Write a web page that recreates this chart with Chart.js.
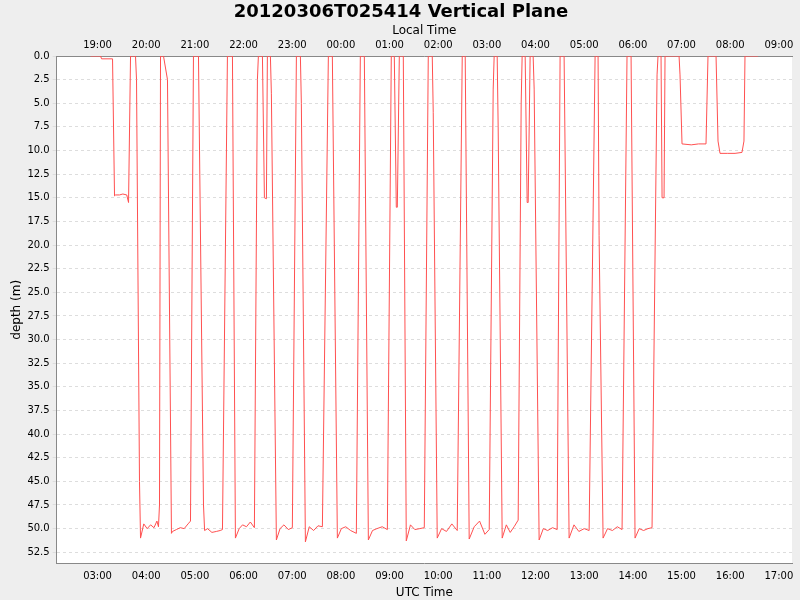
<!DOCTYPE html>
<html><head><meta charset="utf-8">
<script src="https://cdn.jsdelivr.net/npm/chart.js@4/dist/chart.umd.min.js"></script>
<style>html,body{margin:0;padding:0;background:#eeeeee;}#w{width:800px;height:600px;}</style>
</head><body><div id="w"><canvas id="c" width="800" height="600"></canvas></div>
<script>
const chartTitle = "20120306T025414 Vertical Plane";
// samples: [UTC time in decimal hours, depth in metres]
const samples = [[2.856,0],[3.062,0],[3.082,0.3],[3.308,0.3],[3.349,14.8],[3.370,14.7],[3.45,14.7],[3.52,14.6],[3.60,14.7],[3.637,15.5],[3.678,0],[3.698,0],[3.780,0],
[3.801,2.5],[3.862,45],[3.883,51.0],[3.95,49.5],[4.02,50.0],[4.09,49.6],[4.16,49.9],[4.22,49.2],[4.252,49.8],[4.273,47.5],[4.294,0],[4.355,0],
[4.437,2.5],[4.519,50.5],[4.540,50.3],[4.62,50.1],[4.70,49.9],[4.78,50.0],[4.86,49.5],[4.910,49.2],[4.971,0],[5.074,0],
[5.177,47.5],[5.20,50.2],[5.26,50.0],[5.35,50.4],[5.44,50.3],[5.52,50.2],[5.567,50.1],[5.669,0],[5.772,0],
[5.833,51.0],[5.91,50.0],[5.98,49.6],[6.06,49.8],[6.14,49.3],[6.223,49.9],[6.285,2.5],[6.305,0],[6.388,0],[6.429,15.0],[6.470,15.1],[6.490,0],[6.552,0],[6.572,4.0],
[6.675,51.2],[6.75,50.0],[6.83,49.6],[6.92,50.1],[7.003,49.9],[7.086,0],[7.168,0],[7.188,5.0],
[7.271,51.4],[7.35,49.8],[7.44,50.2],[7.53,49.7],[7.620,49.8],[7.743,0],[7.825,0],
[7.928,51.0],[8.01,50.0],[8.10,49.8],[8.20,50.2],[8.318,50.5],[8.400,0],[8.482,0],
[8.565,51.2],[8.65,50.2],[8.74,50.0],[8.85,49.8],[8.955,50.1],[9.036,0],[9.098,0],[9.139,16.0],[9.160,16.0],[9.201,0],[9.283,0],
[9.344,51.3],[9.43,49.6],[9.52,50.1],[9.62,50.0],[9.714,49.9],[9.796,0],[9.878,0],[9.898,6.0],
[9.980,51.0],[10.07,50.0],[10.17,50.3],[10.28,49.5],[10.391,50.2],[10.494,0],[10.555,0],
[10.637,51.1],[10.74,49.8],[10.85,49.2],[10.96,50.6],[11.048,50.1],[11.130,3.5],[11.150,0],[11.212,0],[11.232,7.5],
[11.315,51.0],[11.40,49.6],[11.48,50.4],[11.56,49.8],[11.643,49.1],[11.705,5.0],[11.725,0],[11.787,0],[11.828,15.5],[11.849,15.5],[11.889,0],[11.951,0],[11.972,3.5],
[12.074,51.2],[12.16,50.0],[12.25,50.2],[12.35,49.9],[12.444,50.1],[12.505,0],[12.587,0],
[12.690,51.0],[12.79,49.6],[12.89,50.3],[13.00,50.0],[13.101,50.2],[13.224,0],[13.285,0],[13.306,19.0],
[13.388,51.0],[13.48,50.0],[13.58,50.2],[13.68,49.8],[13.778,50.1],[13.880,0],[13.963,0],
[14.045,51.0],[14.13,50.0],[14.22,50.2],[14.31,50.0],[14.394,49.9],[14.497,2.0],[14.517,0],[14.579,0],[14.600,15.0],[14.641,15.0],[14.661,0],[14.702,0],[14.949,0],[14.969,2.0],[15.010,9.3],[15.20,9.4],[15.35,9.3],[15.503,9.3],[15.544,0],[15.606,0],[15.709,0],[15.750,9.0],[15.791,10.3],[15.95,10.3],[16.10,10.3],[16.242,10.2],[16.283,9.0],[16.304,0],[16.571,0]];
const xTicks = [3,4,5,6,7,8,9,10,11,12,13,14,15,16,17];
const localOffset = -8;

const pts = samples.map(s=>({x:s[0],y:s[1]}));
const pad = n => String(((n%24)+24)%24).padStart(2,'0')+':00';
const bg = {id:'bg',beforeDraw(c){const a=c.chartArea,x=c.ctx;x.save();x.fillStyle='#fff';x.fillRect(a.left,a.top,a.right-a.left,a.bottom-a.top);x.restore();}};
const fixTicks = s => { s.ticks = xTicks.map(v=>({value:v})); };
new Chart(document.getElementById('c'),{
  type:'line',
  data:{datasets:[{data:pts,borderColor:'#ff5050',borderWidth:1,pointRadius:0,tension:0,fill:false}]},
  options:{
    responsive:false,animation:false,
    layout:{padding:{left:10,right:8,top:0,bottom:0}},
    plugins:{legend:{display:false},tooltip:{enabled:false},
      title:{display:true,text:chartTitle,color:'#000',font:{family:'DejaVu Sans',size:18,weight:'bold'},padding:{top:2,bottom:0}}},
    scales:{
      x:{type:'linear',position:'bottom',min:2.16,max:17.27,afterBuildTicks:fixTicks,
        grid:{display:false,drawTicks:true,tickLength:4},border:{color:'#888'},
        ticks:{callback:v=>pad(v),color:'#000',font:{family:'DejaVu Sans',size:10},maxRotation:0,autoSkip:false},
        title:{display:true,text:'UTC Time',color:'#000',font:{family:'DejaVu Sans',size:12},padding:{top:0,bottom:0}}},
      x2:{type:'linear',position:'top',min:2.16,max:17.27,afterBuildTicks:fixTicks,
        grid:{display:false,tickLength:4},border:{color:'#888'},
        ticks:{callback:v=>pad(v+localOffset),color:'#000',font:{family:'DejaVu Sans',size:10},maxRotation:0,autoSkip:false,padding:1},
        title:{display:true,text:'Local Time',color:'#000',font:{family:'DejaVu Sans',size:12},padding:{top:0,bottom:0}}},
      y:{type:'linear',reverse:true,min:0,max:53.7,
        afterBuildTicks:s=>{const t=[];for(let v=0;v<=52.5;v+=2.5)t.push({value:v});s.ticks=t;},
        grid:{color:'#dddddd',tickLength:4,drawTicks:true},border:{color:'#888',dash:[3,3]},
        ticks:{callback:v=>v.toFixed(1),color:'#000',font:{family:'DejaVu Sans',size:10},autoSkip:false},
        title:{display:true,text:'depth (m)',color:'#000',font:{family:'DejaVu Sans',size:12},padding:0}}
    }
  },
  plugins:[bg]
});
</script></body></html>
